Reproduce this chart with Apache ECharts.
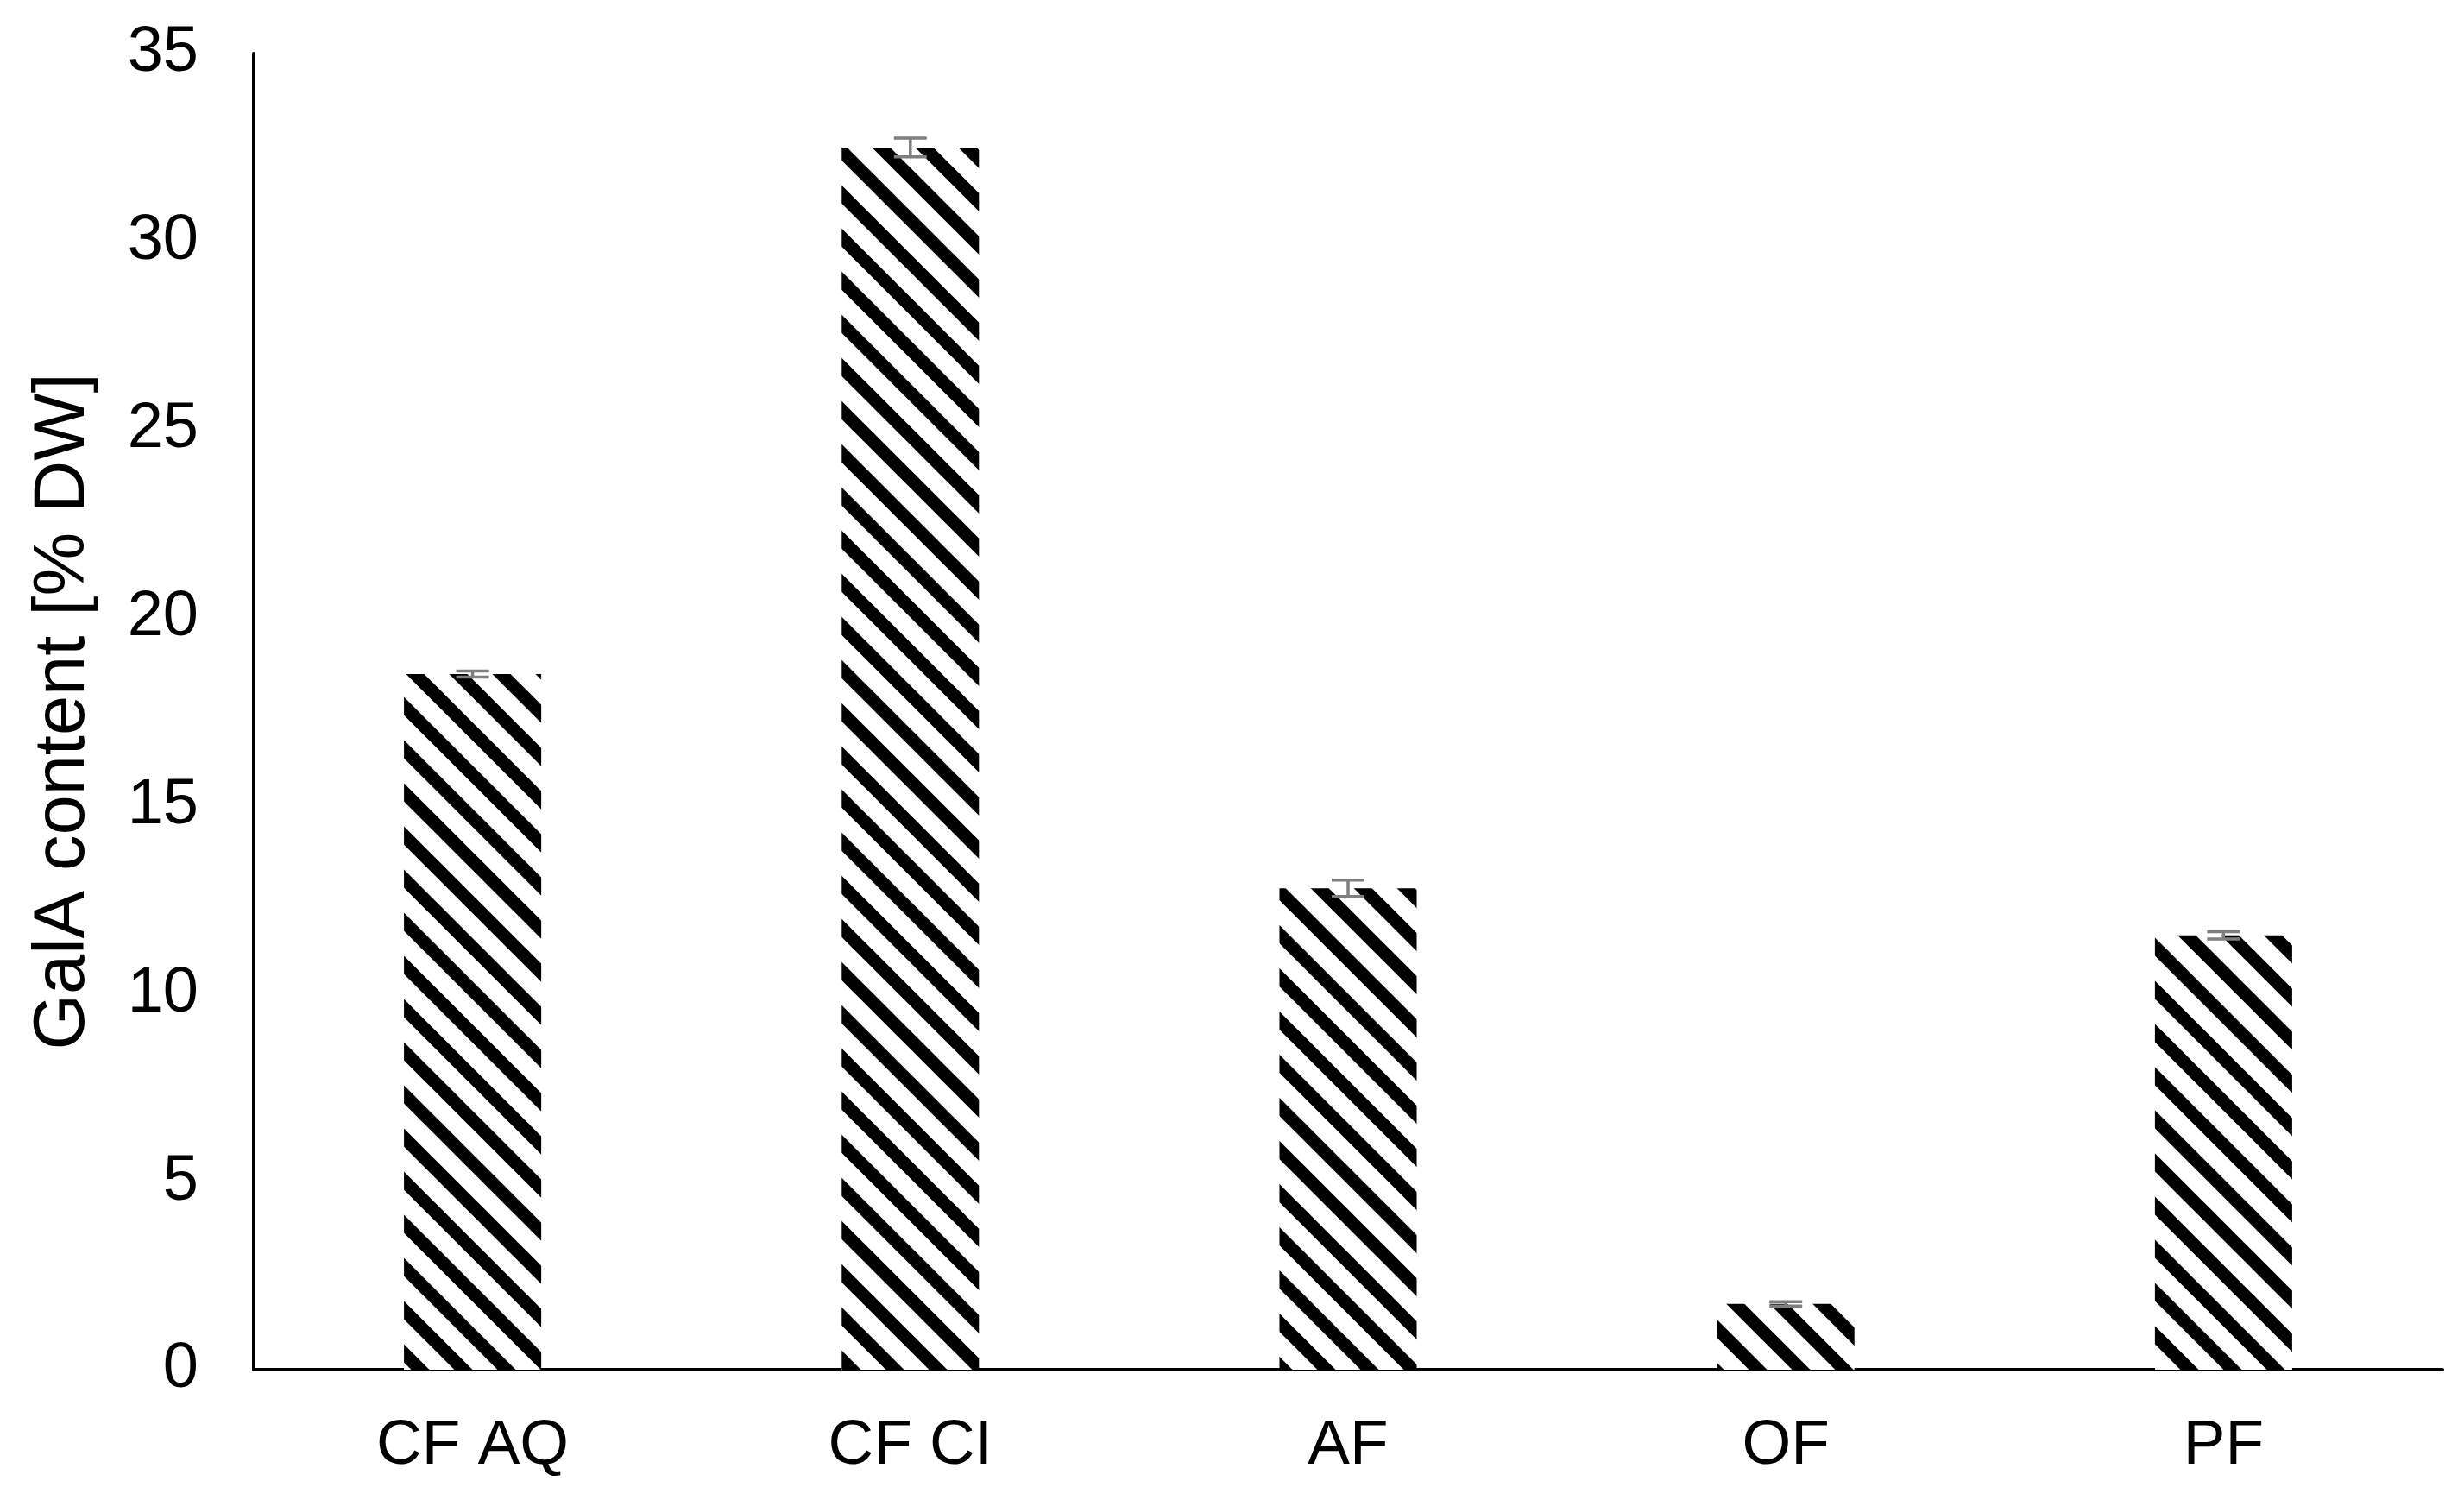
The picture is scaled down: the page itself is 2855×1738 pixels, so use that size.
<!DOCTYPE html>
<html>
<head>
<meta charset="utf-8">
<script src="https://cdn.jsdelivr.net/npm/echarts@6/dist/echarts.min.js"></script>
<style>
  html, body { margin: 0; padding: 0; background: #fff; }
  #chart { width: 2855px; height: 1738px; }
</style>
</head>
<body>
<div id="chart"></div>
<script>
// data
var categories = ['CF AQ', 'CF CI', 'AF', 'OF', 'PF'];
var galaValues = [18.5, 32.5, 12.8, 1.75, 11.55];
var galaErrors = [0.08, 0.25, 0.22, 0.06, 0.1];
var yTicks = [0, 5, 10, 15, 20, 25, 30, 35];

// hatch pattern "\\\" black on white
function makeHatch() {
  var s = 50;
  var c = document.createElement('canvas');
  c.width = s; c.height = s;
  var ctx = c.getContext('2d');
  ctx.fillStyle = '#fff';
  ctx.fillRect(0, 0, s, s);
  ctx.strokeStyle = '#000';
  ctx.lineWidth = 15;
  ctx.lineCap = 'square';
  [-s, 0, s].forEach(function (off) {
    ctx.beginPath();
    ctx.moveTo(off, 0);
    ctx.lineTo(off + s, s);
    ctx.stroke();
  });
  return c;
}

var errData = categories.map(function (c, i) {
  return [i, galaValues[i] - galaErrors[i], galaValues[i] + galaErrors[i]];
});

var font = 'Liberation Sans, Arial, sans-serif';
var myChart = echarts.init(document.getElementById('chart'));

var option = {
  backgroundColor: '#fff',
  animation: false,
  grid: {
    left: 294,
    right: 25,
    top: 62,
    bottom: 151,
    outerBoundsMode: 'none'
  },
  xAxis: {
    type: 'category',
    data: categories,
    axisLine: { show: true, lineStyle: { color: '#000', width: 4 } },
    axisTick: { show: false },
    axisLabel: { color: '#000', fontSize: 73, fontFamily: font, margin: 52 },
    splitLine: { show: false }
  },
  yAxis: {
    type: 'value',
    min: 0,
    max: 35,
    interval: 5,
    name: 'GalA content [% DW]',
    nameLocation: 'middle',
    nameGap: 178,
    nameTextStyle: { color: '#000', fontSize: 83, fontFamily: font },
    axisLine: { show: true, lineStyle: { color: '#000', width: 4 } },
    axisTick: { show: false },
    axisLabel: {
      color: '#000', fontSize: 74, fontFamily: font, margin: 64,
      formatter: function (v) { return yTicks.indexOf(v) >= 0 ? String(v) : ''; }
    },
    splitLine: { show: false }
  },
  series: [{
    type: 'bar',
    data: galaValues,
    barWidth: 159,
    itemStyle: {
      color: { image: makeHatch(), repeat: 'repeat' }
    },
    z: 2
  }, {
    type: 'custom',
    data: errData,
    z: 3,
    renderItem: function (params, api) {
      var x = api.value(0);
      var lo = api.coord([x, api.value(1)]);
      var hi = api.coord([x, api.value(2)]);
      var half = 19;
      var st = { stroke: '#7f7f7f', lineWidth: 3.5 };
      return {
        type: 'group',
        children: [
          { type: 'line', shape: { x1: lo[0], y1: lo[1], x2: hi[0], y2: hi[1] }, style: st },
          { type: 'line', shape: { x1: hi[0] - half, y1: hi[1], x2: hi[0] + half, y2: hi[1] }, style: st },
          { type: 'line', shape: { x1: lo[0] - half, y1: lo[1], x2: lo[0] + half, y2: lo[1] }, style: st }
        ]
      };
    }
  }]
};

myChart.setOption(option);
</script>
</body>
</html>
